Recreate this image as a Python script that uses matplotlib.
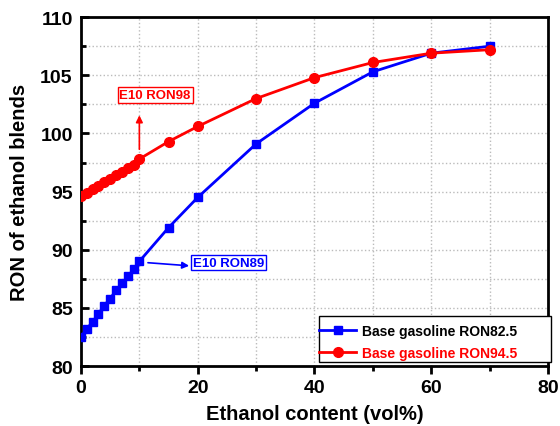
import matplotlib.pyplot as plt
from matplotlib.patches import Rectangle
from matplotlib.ticker import MultipleLocator

plt.rcParams["font.family"] = ["Liberation Sans", "DejaVu Sans"]
plt.rcParams["font.weight"] = "bold"

ethanol = [0, 1, 2, 3, 4, 5, 6, 7, 8, 9, 10, 15, 20, 30, 40, 50, 60, 70]
ron_base_825 = [82.5, 83.2, 83.8, 84.5, 85.2, 85.8, 86.5, 87.1, 87.7, 88.3,
                89.0, 91.9, 94.5, 99.1, 102.6, 105.3, 106.9, 107.5]
ron_base_945 = [94.6, 94.9, 95.2, 95.5, 95.8, 96.1, 96.4, 96.7, 97.0, 97.3,
                97.8, 99.3, 100.6, 103.0, 104.8, 106.1, 106.9, 107.2]

fig = plt.figure(figsize=(5.6, 4.27), dpi=100)
ax = fig.add_axes([0.1446, 0.1405, 0.834, 0.817])

ax.plot(ethanol, ron_base_825, color="#0000ff", lw=2, marker="s", ms=6,
        label="Base gasoline RON82.5", zorder=3)
ax.plot(ethanol, ron_base_945, color="#ff0000", lw=2, marker="o", ms=7,
        label="Base gasoline RON94.5", zorder=3)

ax.set_xlim(0, 80)
ax.set_ylim(80, 110)
ax.xaxis.set_major_locator(MultipleLocator(20))
ax.xaxis.set_minor_locator(MultipleLocator(10))
ax.yaxis.set_major_locator(MultipleLocator(5))
ax.yaxis.set_minor_locator(MultipleLocator(2.5))
ax.grid(which="both", color="#bbbbbb", ls=":", lw=1)
ax.set_axisbelow(True)

ax.tick_params(axis="both", which="major", labelsize=14, width=2, length=6)
ax.tick_params(axis="both", which="minor", width=2, length=3.5)
ax.tick_params(axis="y", which="both", direction="in", pad=6)
ax.tick_params(axis="x", which="both", direction="out", pad=3)
for sp in ax.spines.values():
    sp.set_linewidth(2)

ax.set_xlabel("Ethanol content (vol%)", fontsize=14.5, fontweight="bold",
              labelpad=6)
ax.set_ylabel("RON of ethanol blends", fontsize=14.5, fontweight="bold",
              labelpad=8)

# E10 callouts
ax.annotate("", xy=(10, 101.8), xytext=(10, 98.4),
            arrowprops=dict(arrowstyle="-|>", color="#ff0000", lw=1.2,
                            mutation_scale=10))
ax.text(12.7, 103.3, "E10 RON98", color="#ff0000", fontsize=9.5,
        fontweight="bold", ha="center", va="center",
        bbox=dict(boxstyle="square,pad=0.15", fc="white", ec="#ff0000", lw=1))
ax.annotate("", xy=(19, 88.6), xytext=(11, 88.9),
            arrowprops=dict(arrowstyle="-|>", color="#0000ff", lw=1.2,
                            mutation_scale=10))
ax.text(25.3, 88.9, "E10 RON89", color="#0000ff", fontsize=9.5,
        fontweight="bold", ha="center", va="center",
        bbox=dict(boxstyle="square,pad=0.15", fc="white", ec="#0000ff", lw=1))

# legend frame drawn separately so the handles can sit flush with its edge
ax.add_patch(Rectangle((0.5096, 0.0115), 0.4968, 0.1318, transform=ax.transAxes,
                       fc="white", ec="black", lw=1, clip_on=False, zorder=4))
leg = ax.legend(loc="center left", bbox_to_anchor=(0.5096, 0.069),
                fontsize=10, frameon=False, borderaxespad=0.0, borderpad=0.0,
                handlelength=2.7, handletextpad=0.4, labelspacing=0.62)
leg.set_zorder(5)
for txt, col in zip(leg.get_texts(), ["black", "#ff0000"]):
    txt.set_color(col)
    txt.set_fontweight("bold")

fig.savefig("out.png", dpi=100)
